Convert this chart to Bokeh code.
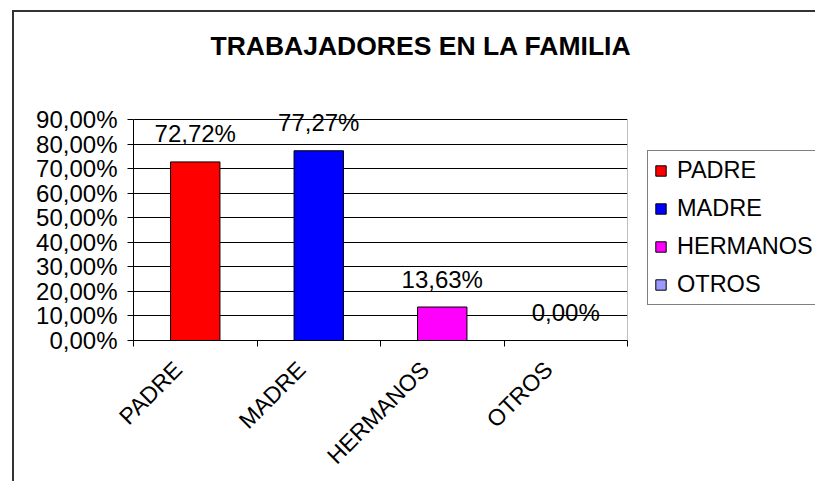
from math import pi
from bokeh.plotting import figure
from bokeh.layouts import row, column
from bokeh.models import (ColumnDataSource, Range1d, FixedTicker, Legend, LegendItem, Spacer, Title)
from bokeh.core.properties import value
from bokeh.embed import file_html
from bokeh.resources import INLINE

categories = ["PADRE", "MADRE", "HERMANOS", "OTROS"]
values = [0.7272, 0.7727, 0.1363, 0.0]
colors = ["#FF0000", "#0000FF", "#FF00FF", "#9999FF"]
y_ticks = [0.0, 0.1, 0.2, 0.3, 0.4, 0.5, 0.6, 0.7, 0.8, 0.9]
y_tick_labels = ["0,00%", "10,00%", "20,00%", "30,00%", "40,00%", "50,00%",
                 "60,00%", "70,00%", "80,00%", "90,00%"]
title_text = "TRABAJADORES EN LA FAMILIA"

FONT = "Liberation Sans"
FS = "24px"
LABEL_SHIFT = 0.14   # rotated category labels sit a little left of the category centre

x_pos = [i + 0.5 for i in range(len(categories))]
labels = [("%.2f%%" % (v * 100)).replace(".", ",") for v in values]
n_cat = len(categories)
y_top = y_ticks[-1]

src = ColumnDataSource(dict(x=x_pos, top=values, color=colors, cat=categories, lab=labels))

# plot area: 221 px for the 0..90% axis, plus 8 px of headroom so data labels are not clipped
AXIS_PX, HEAD_PX = 221, 8
WM, WL, H = 633, 168, 469
y_max = y_top * (AXIS_PX + HEAD_PX) / AXIS_PX
p = figure(width=WM, height=H, output_backend="svg", toolbar_location=None, title=None,
           x_range=Range1d(0, n_cat), y_range=Range1d(0, y_max),
           min_border_left=119, min_border_right=20, min_border_top=107 - HEAD_PX,
           min_border_bottom=141)
p.background_fill_color = "white"
p.border_fill_color = "white"
p.outline_line_color = None

# title: an empty spacer title next to the frame, then the visible title above it
p.add_layout(Title(text=" ", text_font_size="10px", standoff=46 - HEAD_PX), "above")
p.add_layout(Title(text=title_text, align="left", offset=77, standoff=0,
                   text_font=FONT, text_font_size="26.5px", text_font_style="bold",
                   text_color="black"), "above")

# right edge of the plot area (grey), from the axis extents
p.segment(x0=[n_cat], y0=[0], x1=[n_cat], y1=[y_top], line_color="#808080", line_width=1)

r = p.vbar(x="x", top="top", width=0.4, bottom=0, source=src,
           fill_color="color", line_color="black", line_width=1)

p.text(x="x", y="top", text="lab", source=src, text_align="center",
       text_baseline="alphabetic", y_offset=-28, text_color="black",
       text_font=value(FONT), text_font_size=FS)

# axes
label_ticks = [x - LABEL_SHIFT for x in x_pos]
xa = p.xaxis[0]
xa.ticker = FixedTicker(ticks=label_ticks, minor_ticks=list(range(n_cat + 1)))
xa.major_label_overrides = {x: c for x, c in zip(label_ticks, categories)}
xa.major_tick_out = 0
xa.major_tick_in = 0
xa.minor_tick_out = 6
xa.minor_tick_in = 0
xa.minor_tick_line_color = "black"
xa.major_label_orientation = pi / 4
xa.major_label_text_font = FONT
xa.major_label_text_font_size = "23px"
xa.major_label_text_color = "black"
xa.axis_line_color = "black"
xa.major_label_standoff = 19

ya = p.yaxis[0]
ya.ticker = FixedTicker(ticks=y_ticks, minor_ticks=[])
ya.bounds = (0, y_top)
ya.major_label_overrides = {t: l for t, l in zip(y_ticks, y_tick_labels)}
ya.major_tick_out = 6
ya.major_tick_in = 0
ya.major_tick_line_color = "black"
ya.minor_tick_line_color = None
ya.axis_line_color = "black"
ya.major_label_text_font = FONT
ya.major_label_text_font_size = FS
ya.major_label_text_color = "black"
ya.major_label_standoff = 10

p.xgrid.visible = False
p.ygrid.ticker = FixedTicker(ticks=y_ticks)
p.ygrid.grid_line_color = "black"
p.ygrid.grid_line_width = 1

# legend panel: a separate small figure so that the legend is not clipped by the plot frame;
# its copy of the bars lies hidden behind the opaque legend box
pl = figure(width=WL, height=H, output_backend="svg", toolbar_location=None, title=None,
            x_axis_type=None, y_axis_type=None, min_border=0,
            x_range=Range1d(0, n_cat), y_range=Range1d(-0.25, 1.2))
pl.outline_line_color = None
pl.background_fill_color = "white"
pl.border_fill_color = "white"
pl.xgrid.visible = False
pl.ygrid.visible = False
rl = pl.vbar(x="x", top="top", width=0.4, bottom=0, source=src,
             fill_color="color", line_color="black", line_width=1)
items = [LegendItem(label=c, renderers=[rl], index=i) for i, c in enumerate(categories)]
leg = Legend(items=items, location=(0, 35), orientation="vertical",
             border_line_color="black", border_line_width=1, background_fill_color="white",
             background_fill_alpha=1.0, label_text_font=FONT, label_text_font_size="23.5px",
             label_text_color="black", glyph_width=13, glyph_height=13, label_height=24,
             label_standoff=10, spacing=11, padding=6, margin=0)
pl.add_layout(leg, "center")

# outer chart-area border (left and top edges) built from spacers
top_bar = Spacer(width=2 + WM + WL, height=2, styles={"background-color": "#333333"})
left_bar = Spacer(width=2, height=H, styles={"background-color": "#333333"})
layout = column(Spacer(width=12 + 2 + WM + WL, height=10),
                row(Spacer(width=12, height=H + 2),
                    column(top_bar, row(left_bar, p, pl, spacing=0), spacing=0),
                    spacing=0),
                spacing=0)

open("out.html", "w").write(file_html(layout, INLINE))
